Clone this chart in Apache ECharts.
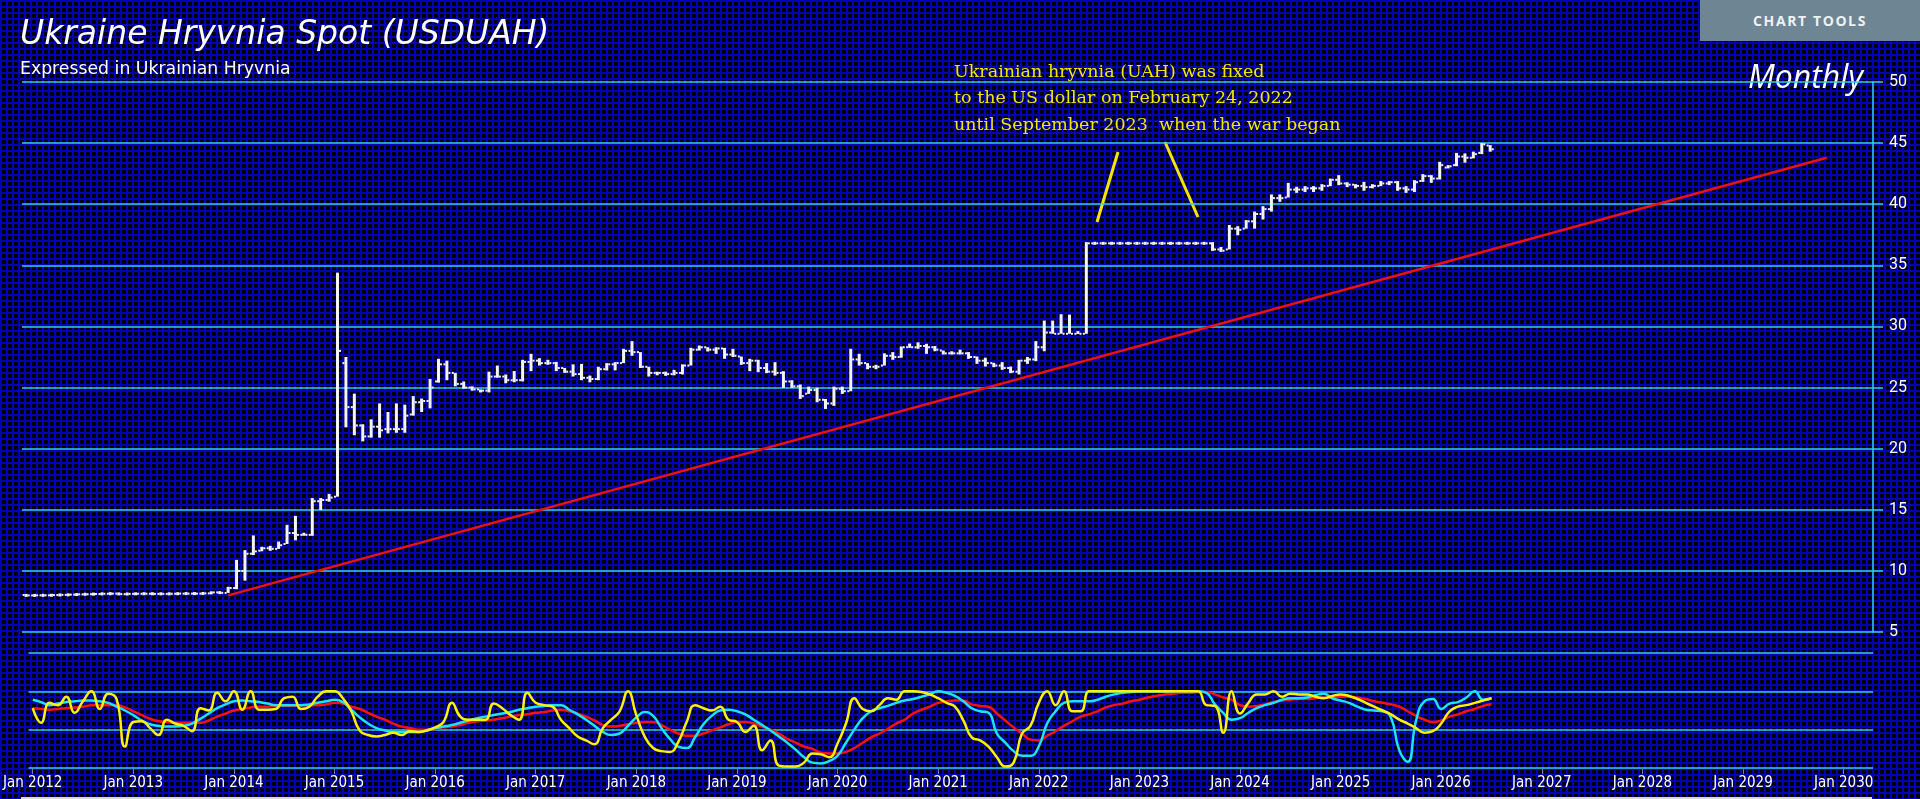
<!DOCTYPE html>
<html>
<head>
<meta charset="utf-8">
<title>Ukraine Hryvnia Spot (USDUAH)</title>
<script src="https://cdn.jsdelivr.net/npm/echarts/dist/echarts.min.js"></script>
<style>
  html, body { margin: 0; padding: 0; }
  body {
    width: 1920px; height: 799px; overflow: hidden;
    background-color: #000;
    background-image:
      linear-gradient(#0000b4 2px, transparent 2px),
      linear-gradient(90deg, #0000b4 2px, transparent 2px);
    background-size: 6px 6px;
    position: relative;
  }
  #chart { width: 1920px; height: 799px; }
  .tools {
    position: absolute; left: 1700px; top: 0; width: 220px; height: 41px;
    background: #6e8593; color: #eef2f5;
    font: bold 14px "Open Sans", sans-serif; letter-spacing: 1.6px;
    display: flex; align-items: center; justify-content: center;
  }
</style>
</head>
<body>
<div id="chart"></div>
<div class="tools">CHART TOOLS</div>
<script>
// monthly bars, Jan 2012 .. Jul 2026
const open = [
  8.03, 7.99, 8.00, 8.00, 8.02, 8.04, 8.06, 8.08, 8.09, 8.11, 8.13, 8.14,
  8.10, 8.12, 8.13, 8.13, 8.12, 8.12, 8.13, 8.14, 8.14, 8.14, 8.16, 8.24,
  8.20, 8.60, 10.00, 11.40, 11.65, 11.85, 11.80, 12.20, 13.10, 12.95, 12.95, 15.70,
  15.80, 16.07, 27.00, 23.40, 21.90, 21.00, 21.80, 21.60, 21.60, 21.60, 22.80, 23.80,
  23.90, 25.50, 26.90, 26.20, 25.30, 25.00, 24.85, 24.75, 25.90, 25.90, 25.60, 25.60,
  27.10, 27.20, 27.00, 27.00, 26.60, 26.30, 26.10, 25.80, 25.70, 26.50, 26.90, 27.00,
  28.00, 27.90, 26.70, 26.20, 26.20, 26.10, 26.20, 26.80, 28.10, 28.30, 28.10, 28.20,
  27.70, 27.54, 27.00, 27.20, 26.60, 26.30, 26.20, 25.50, 25.10, 24.50, 24.80, 24.00,
  23.70, 24.90, 24.70, 27.30, 27.00, 26.70, 26.80, 27.60, 27.50, 28.30, 28.30, 28.40,
  28.30, 28.03, 27.80, 27.80, 27.80, 27.50, 27.20, 27.00, 26.80, 26.60, 26.30, 27.20,
  27.30, 28.30, 29.50, 29.40, 29.40, 29.40, 29.40, 36.80, 36.80, 36.80, 36.80, 36.80,
  36.80, 36.80, 36.80, 36.80, 36.80, 36.80, 36.80, 36.80, 36.80, 36.80, 36.30, 36.30,
  38.00, 38.00, 38.60, 39.20, 39.60, 40.50, 40.55, 41.20, 41.20, 41.30, 41.30, 41.50,
  42.00, 41.70, 41.60, 41.50, 41.40, 41.50, 41.70, 41.80, 41.30, 41.20, 41.90, 42.30,
  42.10, 43.00, 43.20, 43.90, 43.80, 44.20, 44.80
];
const high = [
  8.06, 8.03, 8.04, 8.04, 8.07, 8.08, 8.10, 8.12, 8.14, 8.16, 8.17, 8.17,
  8.15, 8.16, 8.17, 8.17, 8.16, 8.16, 8.17, 8.18, 8.18, 8.20, 8.28, 8.28,
  8.70, 10.90, 11.70, 12.90, 11.97, 12.05, 12.40, 13.77, 14.50, 13.10, 15.96, 15.96,
  16.30, 34.40, 27.50, 24.50, 22.00, 22.40, 23.70, 23.00, 23.70, 23.60, 24.30, 24.10,
  25.70, 27.35, 27.20, 26.20, 25.50, 25.10, 24.85, 26.30, 26.80, 26.07, 26.35, 27.27,
  27.76, 27.40, 27.27, 27.10, 26.60, 26.90, 26.94, 25.98, 26.70, 27.00, 27.08, 28.17,
  28.80, 27.90, 26.70, 26.30, 26.30, 26.45, 26.90, 28.25, 28.44, 28.30, 28.30, 28.25,
  28.17, 27.54, 27.35, 27.27, 27.00, 27.08, 26.34, 25.60, 25.25, 25.08, 24.98, 24.07,
  25.08, 25.08, 28.17, 27.76, 27.00, 26.86, 27.80, 27.90, 28.36, 28.60, 28.70, 28.58,
  28.40, 28.03, 27.97, 28.10, 27.90, 27.54, 27.44, 27.03, 27.08, 26.72, 27.27, 27.50,
  28.80, 30.48, 30.48, 31.00, 30.97, 29.60, 36.90, 36.90, 36.90, 36.90, 36.90, 36.90,
  36.90, 36.90, 36.90, 36.90, 36.90, 36.90, 36.90, 36.90, 36.90, 36.90, 36.50, 38.30,
  38.20, 38.70, 39.40, 39.84, 40.80, 40.80, 41.75, 41.43, 41.48, 41.48, 41.64, 42.10,
  42.38, 41.80, 41.64, 41.83, 41.64, 41.90, 41.90, 41.90, 41.48, 41.97, 42.46, 42.38,
  43.47, 43.20, 44.20, 44.16, 44.30, 45.00, 44.84
];
const low = [
  7.93, 7.96, 7.96, 7.97, 7.99, 8.00, 8.03, 8.05, 8.06, 8.08, 8.10, 8.07,
  8.07, 8.09, 8.10, 8.09, 8.09, 8.09, 8.10, 8.11, 8.11, 8.11, 8.13, 8.16,
  8.20, 8.50, 9.20, 11.30, 11.60, 11.64, 11.80, 12.20, 12.50, 12.90, 12.87, 14.98,
  15.66, 16.07, 21.75, 21.10, 20.60, 20.90, 20.90, 21.25, 21.30, 21.30, 22.70, 23.00,
  23.30, 25.40, 25.60, 25.10, 24.90, 24.75, 24.60, 24.60, 25.80, 25.35, 25.43, 25.50,
  26.34, 26.80, 26.86, 26.34, 26.20, 25.90, 25.60, 25.43, 25.60, 26.40, 26.40, 27.00,
  27.60, 26.60, 25.90, 26.00, 25.96, 26.00, 26.07, 26.80, 28.03, 27.95, 27.76, 27.35,
  27.50, 26.86, 26.34, 26.26, 26.18, 25.98, 24.98, 24.98, 24.07, 24.48, 23.80, 23.25,
  23.50, 24.48, 24.70, 26.80, 26.50, 26.50, 26.80, 27.27, 27.44, 28.25, 28.17, 27.76,
  27.97, 27.70, 27.70, 27.70, 27.35, 26.94, 26.72, 26.67, 26.45, 26.18, 26.07, 26.94,
  27.16, 27.97, 29.40, 29.40, 29.40, 29.40, 29.40, 36.70, 36.70, 36.70, 36.70, 36.70,
  36.70, 36.70, 36.70, 36.70, 36.70, 36.70, 36.70, 36.70, 36.70, 36.18, 36.10, 36.30,
  37.46, 38.00, 38.00, 38.75, 39.40, 40.20, 40.55, 40.93, 41.00, 41.00, 41.10, 41.48,
  41.56, 41.40, 41.30, 41.10, 41.30, 41.48, 41.56, 41.10, 40.93, 41.00, 41.83, 41.75,
  42.02, 42.93, 43.10, 43.40, 43.75, 44.10, 44.30
];
const close = [
  7.99, 8.00, 8.00, 8.02, 8.04, 8.06, 8.08, 8.09, 8.11, 8.13, 8.14, 8.10,
  8.12, 8.13, 8.13, 8.12, 8.12, 8.13, 8.14, 8.14, 8.14, 8.16, 8.24, 8.20,
  8.60, 10.00, 11.40, 11.60, 11.85, 11.80, 12.10, 13.10, 12.95, 12.95, 15.70, 15.80,
  16.00, 28.00, 23.40, 21.90, 21.00, 21.80, 21.50, 21.60, 21.60, 22.70, 23.80, 23.90,
  25.00, 26.90, 26.20, 25.30, 25.00, 24.85, 24.75, 25.90, 25.90, 25.60, 25.60, 27.10,
  27.20, 27.00, 27.00, 26.60, 26.30, 26.10, 25.80, 25.70, 26.50, 26.90, 27.00, 28.00,
  27.90, 26.70, 26.20, 26.20, 26.10, 26.20, 26.80, 28.10, 28.30, 28.10, 28.20, 27.70,
  27.60, 27.00, 27.20, 26.60, 26.30, 26.20, 25.50, 25.10, 24.30, 24.80, 24.00, 23.70,
  24.90, 24.70, 27.30, 27.00, 26.70, 26.70, 27.60, 27.50, 28.30, 28.30, 28.40, 28.30,
  28.10, 27.80, 27.80, 27.80, 27.50, 27.20, 27.00, 26.80, 26.60, 26.30, 27.20, 27.30,
  28.30, 29.50, 29.40, 29.40, 29.40, 29.40, 36.80, 36.80, 36.80, 36.80, 36.80, 36.80,
  36.80, 36.80, 36.80, 36.80, 36.80, 36.80, 36.80, 36.80, 36.80, 36.30, 36.20, 38.00,
  37.90, 38.60, 39.20, 39.60, 40.50, 40.50, 41.20, 41.20, 41.30, 41.30, 41.50, 42.00,
  41.70, 41.60, 41.50, 41.40, 41.50, 41.70, 41.80, 41.30, 41.20, 41.80, 42.30, 42.10,
  43.20, 43.10, 43.90, 43.80, 44.10, 44.90, 44.50
];

// oscillator panel (0-100)
const fastLine = [
  78, 59, 85, 82, 93, 72, 87, 100, 77, 97, 90, 28,
  60, 61, 52, 43, 63, 58, 55, 48, 78, 75, 98, 87,
  100, 76, 100, 76, 76, 77, 91, 93, 77, 80, 93, 100,
  100, 91, 74, 49, 43, 41, 43, 46, 43, 48, 47, 49,
  53, 60, 85, 67, 63, 63, 63, 84, 78, 69, 63, 98,
  85, 82, 80, 63, 52, 41, 36, 31, 52, 63, 74, 100,
  69, 41, 26, 22, 21, 34, 60, 82, 78, 75, 80, 63,
  60, 47, 55, 23, 36, 3, 2, 2, 7, 19, 18, 14,
  32, 58, 91, 77, 74, 82, 91, 89, 100, 100, 99, 96,
  91, 85, 80, 62, 40, 36, 28, 14, 2, 7, 45, 55,
  85, 100, 82, 100, 74, 74, 100, 100, 100, 100, 100, 100,
  100, 100, 100, 100, 100, 100, 100, 100, 82, 81, 46, 100,
  71, 85, 96, 96, 100, 93, 97, 96, 96, 93, 91, 94,
  96, 94, 90, 85, 80, 75, 70, 63, 58, 52, 46, 48,
  58, 74, 80, 82, 85, 88, 91
];
const signalLine = [
  89, 86, 82, 84, 86, 87, 88, 88, 87, 85, 80, 75,
  69, 62, 57, 55, 54, 54, 55, 58, 64, 71, 78, 83,
  87, 88, 87, 86, 84, 82, 82, 82, 82, 83, 85, 87,
  89, 86, 76, 66, 58, 52, 49, 47, 47, 47, 47, 49,
  52, 54, 56, 59, 62, 65, 67, 69, 71, 73, 76, 78,
  80, 81, 82, 82, 76, 70, 63, 55, 47, 43, 45, 55,
  66, 73, 68, 52, 38, 28, 26, 40, 57, 68, 75, 76,
  74, 70, 63, 56, 49, 41, 33, 24, 14, 7, 6, 9,
  16, 33, 50, 65, 74, 78, 81, 85, 88, 90, 93, 96,
  100, 98, 94, 87, 78, 74, 72, 45, 33, 22, 16, 16,
  28, 58, 74, 85, 87, 87, 87, 89, 93, 96, 98, 99,
  100, 100, 100, 100, 100, 100, 100, 100, 98, 83, 72, 63,
  65, 72, 78, 82, 85, 89, 91, 91, 92, 95, 97, 91,
  88, 85, 80, 76, 75, 74, 66, 23, 8, 62, 87, 90,
  77, 84, 86, 92, 100, 89, 91
];
const slowLine = [
  78, 77, 76, 77, 78, 79, 80, 82, 82, 82, 82, 79,
  74, 69, 64, 61, 60, 59, 59, 59, 59, 62, 67, 71,
  75, 77, 79, 80, 80, 81, 81, 81, 82, 82, 82, 83,
  85, 84, 80, 77, 72, 67, 63, 58, 54, 52, 50, 50,
  51, 53, 54, 56, 59, 61, 62, 63, 65, 67, 69, 70,
  72, 73, 75, 76, 74, 71, 67, 62, 56, 54, 55, 57,
  59, 60, 60, 56, 50, 45, 42, 42, 45, 49, 53, 57,
  60, 60, 58, 54, 50, 45, 38, 33, 28, 25, 20, 19,
  19, 21, 26, 33, 40, 45, 51, 58, 63, 71, 76, 80,
  85, 87, 88, 88, 83, 81, 80, 71, 62, 53, 45, 37,
  36, 42, 48, 55, 61, 67, 70, 74, 79, 82, 84, 87,
  89, 92, 94, 96, 97, 98, 98, 99, 99, 96, 92, 89,
  82, 80, 81, 83, 86, 88, 89, 90, 90, 91, 92, 92,
  93, 93, 92, 90, 87, 85, 83, 80, 74, 68, 63, 60,
  62, 67, 70, 74, 77, 81, 83
];

// trend line: [month index, value]
const trendStart = [24, 8.0];
const trendEnd = [214, 43.8];

const monthNames = ['Jan','Feb','Mar','Apr','May','Jun','Jul','Aug','Sep','Oct','Nov','Dec'];
const months = [];
for (let y = 2012; y <= 2030; y++) {
  for (let m = 0; m < 12; m++) {
    if (y === 2030 && m > 3) break;
    months.push(monthNames[m] + ' ' + y);
  }
}
const priceTicks = [5, 50, 5]; // min, max, step

const ohlc = open.map((o, i) => [i, o, high[i], low[i], close[i]]);
const trend = months.map(() => null);
trend[trendStart[0]] = trendStart[1];
trend[trendEnd[0]] = trendEnd[1];

function renderBar(params, api) {
  const i = api.value(0);
  const hi = api.coord([i, api.value(2)]);
  const lo = api.coord([i, api.value(3)]);
  const yo = api.coord([i, api.value(1)])[1];
  const yc = api.coord([i, api.value(4)])[1];
  const x = hi[0];
  let h = lo[1] - hi[1];
  let top = hi[1];
  if (h < 3) { top = (hi[1] + lo[1]) / 2 - 1.5; h = 3; }
  const fill = '#f4f4f4';
  return {
    type: 'group',
    children: [
      { type: 'rect', shape: { x: x - 1.5, y: top, width: 3, height: h }, style: { fill: fill } },
      { type: 'rect', shape: { x: x - 3.5, y: yo - 1, width: 2, height: 2 }, style: { fill: fill } },
      { type: 'rect', shape: { x: x + 1.5, y: yc - 1, width: 2, height: 2 }, style: { fill: fill } }
    ]
  };
}

const gridLine = '#2fd3e6';
const chart = echarts.init(document.getElementById('chart'));
chart.setOption({
  backgroundColor: 'transparent',
  animation: false,
  grid: [
    { left: 22, right: 47, top: 82, height: 550 },
    { left: 22, right: 47, top: 653, height: 115 }
  ],
  xAxis: [
    {
      type: 'category', gridIndex: 0, data: months, boundaryGap: true,
      axisLine: { show: false }, axisTick: { show: false }, axisLabel: { show: false }
    },
    {
      type: 'category', gridIndex: 1, data: months, boundaryGap: true,
      axisLine: { show: false },
      axisTick: {
        show: true, alignWithLabel: true, length: 6,
        interval: (idx, val) => val.indexOf('Jan') === 0,
        lineStyle: { color: '#5f86b0' }
      },
      axisLabel: {
        interval: (idx, val) => val.indexOf('Jan') === 0,
        color: '#ffffff', fontSize: 15, margin: 8,
        fontFamily: '"Liberation Sans Narrow", "DejaVu Sans Condensed", sans-serif'
      }
    }
  ],
  yAxis: [
    {
      type: 'value', gridIndex: 0, position: 'right',
      min: priceTicks[0], max: priceTicks[1], interval: priceTicks[2],
      axisLine: { show: true, lineStyle: { color: gridLine, width: 1.5 } },
      axisTick: { show: true, length: 10, lineStyle: { color: gridLine, width: 1.5 } },
      axisLabel: { color: '#ffffff', fontSize: 16, margin: 16, fontFamily: 'Roboto, sans-serif' },
      splitLine: { show: true, lineStyle: { color: gridLine, width: 1.5 } }
    },
    {
      type: 'value', gridIndex: 1, min: 0, max: 150, interval: 50,
      axisLine: { show: false }, axisTick: { show: false }, axisLabel: { show: false },
      splitLine: { show: true, lineStyle: { color: gridLine, width: 1.5 } }
    }
  ],
  series: [
    {
      name: 'USDUAH', type: 'custom', xAxisIndex: 0, yAxisIndex: 0,
      renderItem: renderBar, data: ohlc,
      encode: { x: 0, y: [1, 2, 3, 4] }, z: 3
    },
    {
      name: 'Trend', type: 'line', xAxisIndex: 0, yAxisIndex: 0,
      data: trend, connectNulls: true, showSymbol: false, symbol: 'none',
      lineStyle: { color: '#f01010', width: 2.5 }, z: 4
    },
    {
      name: 'Slow', type: 'line', xAxisIndex: 1, yAxisIndex: 1,
      data: slowLine, smooth: true, symbol: 'none',
      lineStyle: { color: '#ff1010', width: 2.5 }, z: 3
    },
    {
      name: 'Signal', type: 'line', xAxisIndex: 1, yAxisIndex: 1,
      data: signalLine, smooth: true, symbol: 'none',
      lineStyle: { color: '#18e6f4', width: 2.5 }, z: 4
    },
    {
      name: 'Fast', type: 'line', xAxisIndex: 1, yAxisIndex: 1,
      data: fastLine, smooth: true, symbol: 'none',
      lineStyle: { color: '#fff200', width: 2.5 }, z: 5
    }
  ],
  graphic: [
    {
      type: 'text', x: 20, y: 35,
      style: {
        text: 'Ukraine Hryvnia Spot (USDUAH)', fill: '#ffffff',
        font: 'italic 33px "DejaVu Sans", sans-serif', textVerticalAlign: 'middle'
      }
    },
    {
      type: 'text', x: 20, y: 70,
      style: {
        text: 'Expressed in Ukrainian Hryvnia', fill: '#ffffff',
        font: '17.3px "DejaVu Sans", sans-serif', textVerticalAlign: 'middle'
      }
    },
    {
      type: 'text', x: 1863, y: 79,
      style: {
        text: 'Monthly', fill: '#ffffff', textAlign: 'right',
        font: 'italic 32px "Open Sans", sans-serif', textVerticalAlign: 'middle'
      }
    },
    {
      type: 'text', x: 954, y: 59,
      style: {
        text: 'Ukrainian hryvnia (UAH) was fixed\nto the US dollar on February 24, 2022\nuntil September 2023  when the war began',
        fill: '#f5e600', font: '17.5px "DejaVu Serif", serif', lineHeight: 26.5,
        textVerticalAlign: 'top'
      }
    },
    {
      type: 'line', shape: { x1: 1118, y1: 152, x2: 1097, y2: 222 },
      style: { stroke: '#f5e600', lineWidth: 3 }
    },
    {
      type: 'line', shape: { x1: 1165, y1: 142, x2: 1198, y2: 217 },
      style: { stroke: '#f5e600', lineWidth: 3 }
    },
    {
      type: 'rect', shape: { x: 21, y: 797, width: 1851, height: 2 },
      style: { fill: '#d9d9d9' }
    }
  ]
});
</script>
</body>
</html>
